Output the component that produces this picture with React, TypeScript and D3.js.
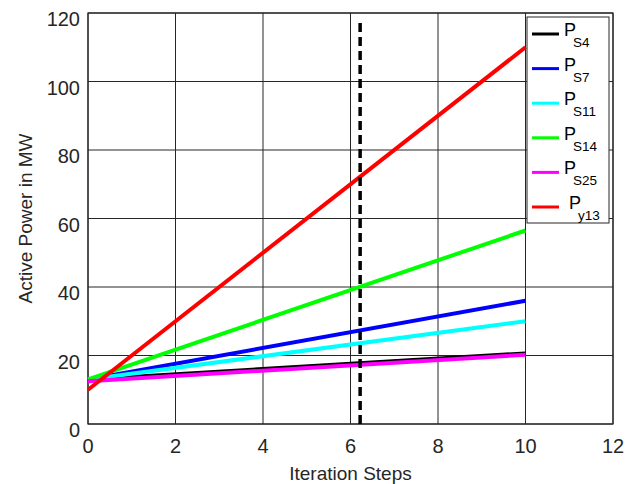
import * as d3 from "d3";

const steps = [0, 10];
const seriesNames = ["S4", "S7", "S11", "S14", "S25", "y13"];
const seriesColors = ["#000000", "#0000ff", "#00ffff", "#00ff00", "#ff00ff", "#ff0000"];
const ps4 = [13, 20.6];
const ps7 = [13, 36];
const ps11 = [13, 30];
const ps14 = [13, 56.5];
const ps25 = [12.5, 20.2];
const py13 = [10, 110];
const xTicks = [0, 2, 4, 6, 8, 10, 12];
const yTicks = [0, 20, 40, 60, 80, 100, 120];
const markerStep = 6.22;

const seriesValues = [ps4, ps7, ps11, ps14, ps25, py13];

export default function App() {
  const width = 640;
  const height = 484;
  const margin = { top: 13, right: 27, bottom: 60, left: 88 };
  const font = "'Liberation Sans', Arial, sans-serif";
  const ink = "#262626";

  const x = d3
    .scaleLinear()
    .domain([0, 12])
    .range([margin.left, width - margin.right]);
  const y = d3
    .scaleLinear()
    .domain([0, 120])
    .range([height - margin.bottom, margin.top]);

  const line = d3
    .line<number>()
    .x((_, i) => x(steps[i]))
    .y((v) => y(v));

  const legend = { x: 527, y: 17, w: 82, h: 206, row: 34.6 };

  return (
    <div style={{ position: "fixed", left: 0, top: 0 }}>
      <svg width={width} height={height} style={{ display: "block", background: "#fff" }}>
        <g>
          {xTicks.map((t) => (
            <line key={`gx${t}`} x1={x(t)} x2={x(t)} y1={y(0)} y2={y(120)} stroke={ink} strokeWidth={1} />
          ))}
          {yTicks.map((t) => (
            <line key={`gy${t}`} x1={x(0)} x2={x(12)} y1={y(t)} y2={y(t)} stroke={ink} strokeWidth={1} />
          ))}
        </g>
        <rect
          x={x(0)}
          y={y(120)}
          width={x(12) - x(0)}
          height={y(0) - y(120)}
          fill="none"
          stroke={ink}
          strokeWidth={1.2}
        />
        {seriesValues.map((vals, i) => (
          <path key={seriesNames[i]} d={line(vals) ?? ""} fill="none" stroke={seriesColors[i]} strokeWidth={4} />
        ))}
        <line
          x1={x(markerStep)}
          x2={x(markerStep)}
          y1={y(0)}
          y2={y(120) + 5}
          stroke="#000"
          strokeWidth={3.5}
          strokeDasharray="9 5"
        />
        <g fontFamily={font} fill={ink} fontSize={20}>
          {xTicks.map((t) => (
            <text key={`tx${t}`} x={x(t)} y={y(0) + 29} textAnchor="middle">
              {t}
            </text>
          ))}
          {yTicks.map((t) => (
            <text key={`ty${t}`} x={x(0) - 8} y={y(t) + 13} textAnchor="end">
              {t}
            </text>
          ))}
        </g>
        <text
          x={(x(0) + x(12)) / 2}
          y={480}
          textAnchor="middle"
          fontFamily={font}
          fontSize={19}
          fill={ink}
        >
          Iteration Steps
        </text>
        <text
          transform={`translate(32, ${(y(0) + y(120)) / 2}) rotate(-90)`}
          textAnchor="middle"
          fontFamily={font}
          fontSize={19}
          fill={ink}
        >
          Active Power in MW
        </text>
        <g>
          <rect x={legend.x} y={legend.y} width={legend.w} height={legend.h} fill="#fff" stroke={ink} strokeWidth={1} />
          {seriesNames.map((name, i) => {
            const cy = legend.y + 17 + i * legend.row;
            const shift = name === "y13" ? 5 : 0;
            return (
              <g key={`lg${name}`}>
                <line x1={legend.x + 5} x2={legend.x + 32} y1={cy} y2={cy} stroke={seriesColors[i]} strokeWidth={3} />
                <text x={legend.x + 37 + shift} y={cy + 2} fontFamily={font} fontSize={18} fill="#000">
                  P
                </text>
                <text x={legend.x + 46 + shift} y={cy + 13} fontFamily={font} fontSize={13.5} fill="#000">
                  {name}
                </text>
              </g>
            );
          })}
        </g>
      </svg>
    </div>
  );
}
